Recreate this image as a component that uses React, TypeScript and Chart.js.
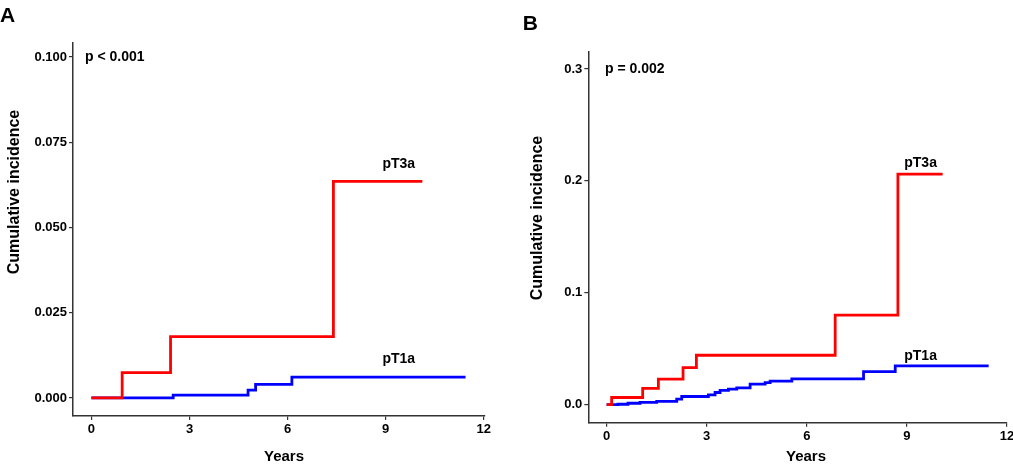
import React, { useEffect, useRef } from "react";
import { Chart, registerables } from "chart.js";

Chart.register(...registerables);

// ---------- data ----------
const xTicks = [0, 3, 6, 9, 12];
const aYTicks = [0, 0.025, 0.05, 0.075, 0.1];
const bYTicks = [0, 0.1, 0.2, 0.3];

const aRedTimes = [0, 0.94, 2.42, 7.4, 10.12];
const aRedValues = [0, 0.0074, 0.018, 0.0635, 0.0635];
const aBlueTimes = [0, 2.5, 4.79, 5.02, 6.13, 11.44];
const aBlueValues = [0, 0.0008, 0.0023, 0.004, 0.0061, 0.0061];

const bRedTimes = [0, 0.15, 1.08, 1.55, 2.29, 2.69, 6.85, 8.73, 10.07];
const bRedValues = [0, 0.0064, 0.0145, 0.0228, 0.0332, 0.0442, 0.08, 0.206, 0.206];
const bBlueTimes = [0, 0.34, 0.64, 1.0, 1.5, 2.1, 2.25, 3.05, 3.25, 3.4, 3.65, 3.9, 4.3, 4.75, 4.9, 5.55, 7.7, 8.65, 11.45];
const bBlueValues = [0, 0.0004, 0.0013, 0.002, 0.0029, 0.0049, 0.0073, 0.0088, 0.0109, 0.0127, 0.0139, 0.015, 0.0183, 0.0198, 0.021, 0.023, 0.0296, 0.0346, 0.0346];

const FONT = '"Liberation Sans", Arial, Helvetica, sans-serif';

type PanelCfg = {
  letter: string;
  letterPos: [number, number];
  pText: string;
  pPos: [number, number];
  t3Pos: [number, number]; // data coords
  t1Pos: [number, number]; // data coords
  yTitlePos: [number, number];
  xTitlePos: [number, number];
  xMin: number;
  xMax: number;
  yMin: number;
  yMax: number;
  yTicks: number[];
  decimals: number;
  areaLeft: number;
  areaTop: number;
  padRight: number;
  xAxisHeight: number;
  redT: number[];
  redV: number[];
  blueT: number[];
  blueV: number[];
};

const panelA: PanelCfg = {
  letter: "A",
  letterPos: [0, 16.5],
  pText: "p < 0.001",
  pPos: [85, 57],
  t3Pos: [9.4, 0.0686],
  t1Pos: [9.4, 0.0114],
  yTitlePos: [14.5, 192],
  xTitlePos: [284, 457],
  xMin: -0.563,
  xMax: 12.02,
  yMin: -0.0053,
  yMax: 0.1041,
  yTicks: aYTicks,
  decimals: 3,
  areaLeft: 73,
  areaTop: 43,
  padRight: 21.5,
  xAxisHeight: 59,
  redT: aRedTimes,
  redV: aRedValues,
  blueT: aBlueTimes,
  blueV: aBlueValues,
};

const panelB: PanelCfg = {
  letter: "B",
  letterPos: [16.7, 24],
  pText: "p = 0.002",
  pPos: [99, 69],
  t3Pos: [9.41, 0.216],
  t1Pos: [9.41, 0.0437],
  yTitlePos: [31.8, 218],
  xTitlePos: [300, 457],
  xMin: -0.55,
  xMax: 12.0,
  yMin: -0.0161,
  yMax: 0.3152,
  yTicks: bYTicks,
  decimals: 1,
  areaLeft: 82.3,
  areaTop: 52,
  padRight: 6,
  xAxisHeight: 52.3,
  redT: bRedTimes,
  redV: bRedValues,
  blueT: bBlueTimes,
  blueV: bBlueValues,
};

function toPoints(t: number[], v: number[]) {
  return t.map((x, i) => ({ x, y: v[i] }));
}

function Panel({ cfg, left, width }: { cfg: PanelCfg; left: number; width: number }) {
  const ref = useRef<HTMLCanvasElement | null>(null);

  useEffect(() => {
    if (!ref.current) return;
    const textPlugin = {
      id: "panelText",
      afterDraw(chart: any) {
        const ctx = chart.ctx;
        const xs = chart.scales.x;
        const ys = chart.scales.y;
        ctx.save();
        ctx.fillStyle = "#000";
        // panel letter
        ctx.font = `bold 21px ${FONT}`;
        ctx.textAlign = "left";
        ctx.textBaseline = "middle";
        ctx.fillText(cfg.letter, cfg.letterPos[0], cfg.letterPos[1]);
        // p value
        ctx.font = `bold 14px ${FONT}`;
        ctx.fillText(cfg.pText, cfg.pPos[0], cfg.pPos[1]);
        // group labels
        ctx.textAlign = "center";
        ctx.fillText("pT3a", xs.getPixelForValue(cfg.t3Pos[0]), ys.getPixelForValue(cfg.t3Pos[1]));
        ctx.fillText("pT1a", xs.getPixelForValue(cfg.t1Pos[0]), ys.getPixelForValue(cfg.t1Pos[1]));
        // x title
        ctx.font = `bold 15px ${FONT}`;
        ctx.fillText("Years", cfg.xTitlePos[0], cfg.xTitlePos[1]);
        // y title
        ctx.font = `bold 16px ${FONT}`;
        ctx.translate(cfg.yTitlePos[0], cfg.yTitlePos[1]);
        ctx.rotate(-Math.PI / 2);
        ctx.fillText("Cumulative incidence", 0, 0);
        ctx.restore();
      },
    };

    const chart = new Chart(ref.current, {
      type: "scatter",
      data: {
        datasets: [
          {
            label: "pT3a",
            data: toPoints(cfg.redT, cfg.redV),
            showLine: true,
            stepped: "before",
            borderColor: "#ff0000",
            backgroundColor: "#ff0000",
            borderWidth: 2.8,
            pointRadius: 0,
            pointHoverRadius: 0,
          },
          {
            label: "pT1a",
            data: toPoints(cfg.blueT, cfg.blueV),
            showLine: true,
            stepped: "before",
            borderColor: "#0000ff",
            backgroundColor: "#0000ff",
            borderWidth: 2.8,
            pointRadius: 0,
            pointHoverRadius: 0,
          },
        ],
      },
      options: {
        animation: false,
        responsive: false,
        maintainAspectRatio: false,
        events: [],
        layout: {
          padding: { left: 0, top: cfg.areaTop, right: cfg.padRight, bottom: 0 },
        },
        plugins: {
          legend: { display: false },
          tooltip: { enabled: false },
          title: { display: false },
        },
        scales: {
          x: {
            type: "linear",
            min: cfg.xMin,
            max: cfg.xMax,
            afterBuildTicks: (s: any) => {
              s.ticks = xTicks.map((v) => ({ value: v }));
            },
            afterFit: (s: any) => {
              s.height = cfg.xAxisHeight;
              s.paddingLeft = 0;
              s.paddingRight = 0;
            },
            grid: {
              display: true,
              drawOnChartArea: false,
              drawTicks: true,
              tickLength: 4,
              color: "#333",
              lineWidth: 1.2,
            },
            border: { display: true, color: "#333", width: 1.5 },
            ticks: {
              color: "#000",
              padding: 2,
              maxRotation: 0,
              autoSkip: false,
              font: { family: FONT, size: 13, weight: "bold" },
              callback: (v: any) => String(v),
            },
          },
          y: {
            type: "linear",
            min: cfg.yMin,
            max: cfg.yMax,
            afterBuildTicks: (s: any) => {
              s.ticks = cfg.yTicks.map((v) => ({ value: v }));
            },
            afterFit: (s: any) => {
              s.width = cfg.areaLeft;
              s.paddingTop = 0;
              s.paddingBottom = 0;
            },
            grid: {
              display: true,
              drawOnChartArea: false,
              drawTicks: true,
              tickLength: 4,
              color: "#333",
              lineWidth: 1.2,
            },
            border: { display: true, color: "#333", width: 1.5 },
            ticks: {
              color: "#000",
              padding: 2,
              autoSkip: false,
              font: { family: FONT, size: 13, weight: "bold" },
              callback: (v: any) => Number(v).toFixed(cfg.decimals),
            },
          },
        },
      },
      plugins: [textPlugin],
    } as any);
    return () => chart.destroy();
  }, [cfg]);

  return (
    <canvas
      ref={ref}
      width={width}
      height={475}
      style={{ position: "absolute", left, top: 0, width, height: 475, display: "block" }}
    />
  );
}

export default function App() {
  return (
    <div
      style={{
        position: "fixed",
        left: 0,
        top: 0,
        width: 1013,
        height: 475,
        background: "#fff",
        overflow: "hidden",
      }}
    >
      <Panel cfg={panelA} left={0} width={506} />
      <Panel cfg={panelB} left={506} width={507} />
    </div>
  );
}
